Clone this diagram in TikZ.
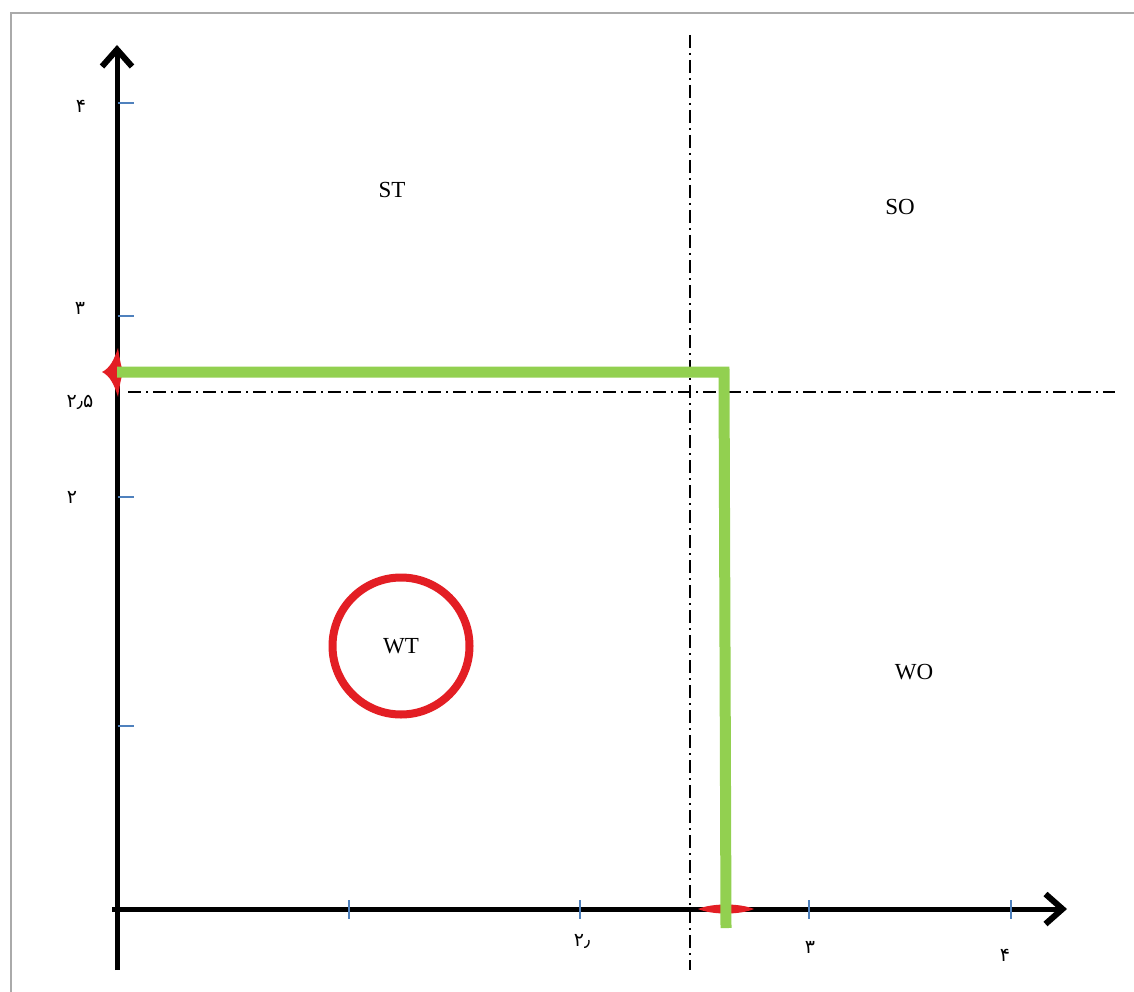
\documentclass[tikz,border=0pt]{standalone}
\usepackage{fontspec}
\setmainfont{Liberation Serif}
\newfontfamily\arabicfont[Script=Arabic]{DejaVu Sans}
\TeXXeTstate=1
\usetikzlibrary{arrows.meta}
\definecolor{framegray}{RGB}{170,170,170}
\definecolor{tickblue}{RGB}{79,129,189}
\definecolor{lgreen}{RGB}{146,208,80}
\definecolor{cred}{RGB}{227,30,36}
\tikzset{
  axisline/.style={line width=5pt,-{Straight Barb[length=17pt,width=30pt,line width=6pt]}},
  tickmark/.style={line width=1.4pt,tickblue},
  dashdotline/.style={line width=1.4pt,dash pattern=on 13pt off 5pt on 2pt off 5pt},
  quadlabel/.style={font=\fontsize{23}{26}\selectfont,inner sep=0pt},
  numlabel/.style={font=\arabicfont\fontsize{19}{21}\selectfont,inner sep=0pt},
  greenpath/.style={line width=11pt,lgreen},
}
\begin{document}
\begin{tikzpicture}[x=1pt,y=-1pt]
\useasboundingbox (0,0) rectangle (1134,992);
\fill[white] (0,0) rectangle (1134,992);
% frame
\draw[framegray,line width=2pt] (11,992) -- (11,13) -- (1134,13);
% coordinates
\coordinate (ybot) at (117,970);
\coordinate (ytop) at (117,45);
\coordinate (xleft) at (112,909);
\coordinate (xright) at (1067,909);
\coordinate (vtop) at (690,35);
\coordinate (vbot) at (690,970);
\coordinate (hleft) at (128,392);
\coordinate (hright) at (1115,392);
\coordinate (gstart) at (117,372);
\coordinate (gcorner) at (724,372);
\coordinate (gend) at (726,928);
% dash-dot lines
\draw[dashdotline] (vtop) -- (vbot);
\draw[dashdotline] (hleft) -- (hright);
% axes
\draw[axisline] (ybot) -- (ytop);
\draw[axisline] (xleft) -- (xright);
% ticks on y axis
\foreach \yy in {103,316,497,726} \draw[tickmark] (118,\yy) -- (134,\yy);
% ticks on x axis
\foreach \xx in {349,580,809,1011} \draw[tickmark] (\xx,900) -- (\xx,919);
% red marks
\fill[cred] (118,348) .. controls (114,360) and (110,368) .. (102,372) .. controls (110,376) and (114,384) .. (118,397) .. controls (120,384) and (121,376) .. (124,372) .. controls (121,368) and (120,360) .. (118,348) -- cycle;
\fill[cred] (698,909) .. controls (712,903) and (740,903) .. (754,909) .. controls (740,915) and (712,915) .. (698,909) -- cycle;
% green L
\draw[greenpath] (gstart) -- (gcorner) -- (gend);
% red circle with WT
\node[circle,draw=cred,line width=8pt,minimum size=137pt,inner sep=0pt,quadlabel] (wt) at (401,646) {WT};
% quadrant labels
\node[quadlabel] (st) at (392,190) {ST};
\node[quadlabel] (so) at (900,207) {SO};
\node[quadlabel] (wo) at (914,672) {WO};
% y labels
\node[numlabel] (y4) at (81,106) {\beginR ۴\endR};
\node[numlabel] (y3) at (80,308) {\beginR ۳\endR};
\node[numlabel] (y25) at (80,402) {\beginR ۲٫۵\endR};
\node[numlabel] (y2) at (72,497) {\beginR ۲\endR};
% x labels
\node[numlabel] (x2) at (582,942) {\beginR ۲٫\endR};
\node[numlabel] (x3) at (810,947) {\beginR ۳\endR};
\node[numlabel] (x4) at (1005,955) {\beginR ۴\endR};
\end{tikzpicture}
\end{document}
